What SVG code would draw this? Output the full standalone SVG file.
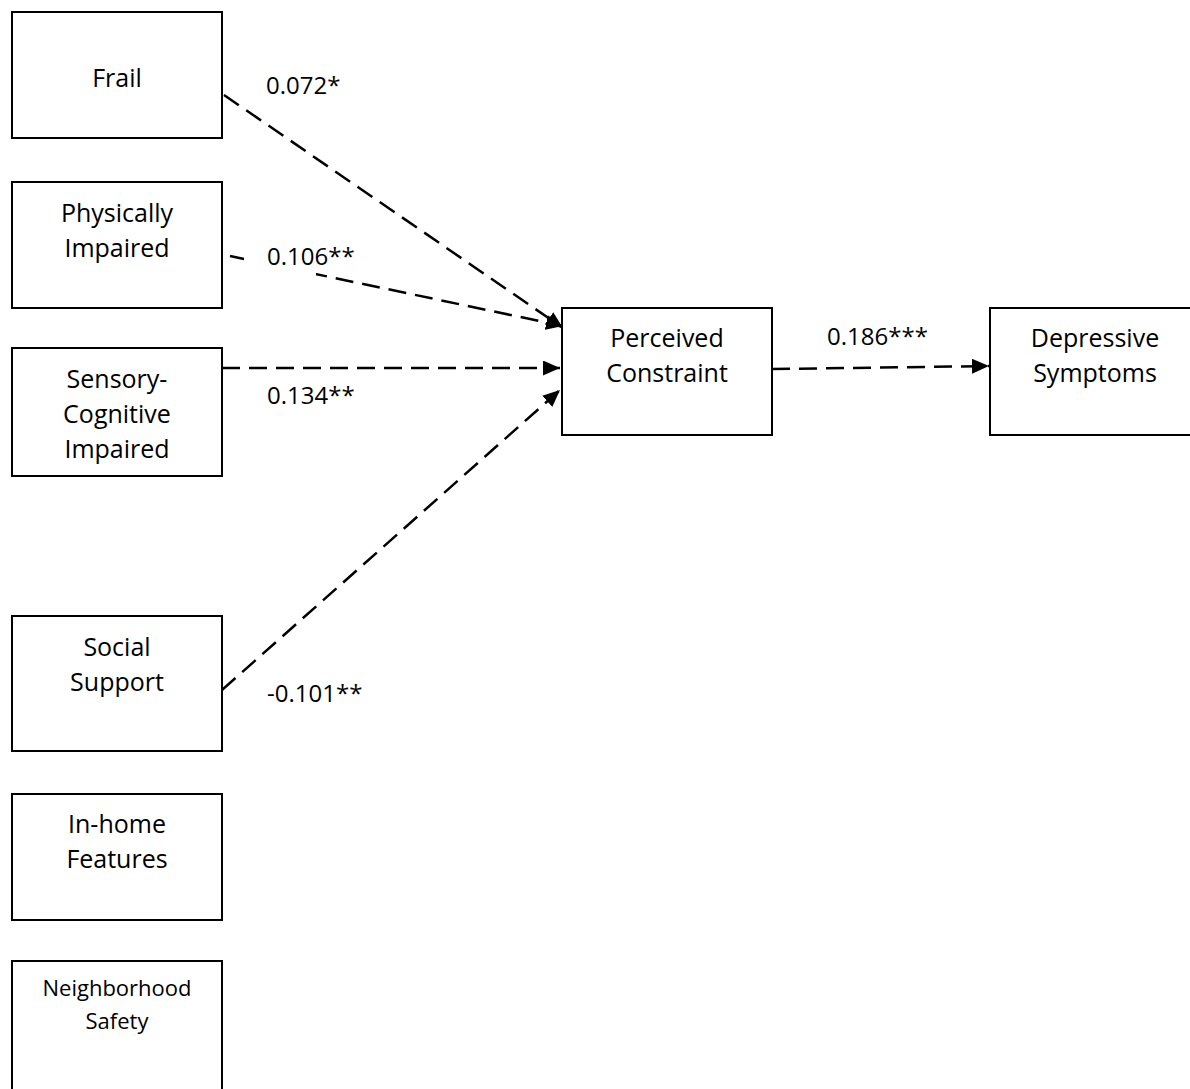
<svg xmlns="http://www.w3.org/2000/svg" width="1190" height="1089" viewBox="0 0 1190 1089">
<style>
.box{fill:#fff;stroke:#000;stroke-width:2}
.t{font-family:"Open Sans","Liberation Sans",sans-serif;font-size:25px;fill:#000;text-anchor:middle}
.s{font-size:22px}
.lab{font-family:"Open Sans","Liberation Sans",sans-serif;font-size:24px;fill:#000}
.c{stroke:#000;stroke-width:2.5;stroke-dasharray:18 9;fill:none;marker-end:url(#ah)}
</style>
<defs>
<marker id="ah" viewBox="0 0 10 10" refX="10" refY="5" markerWidth="17" markerHeight="15" markerUnits="userSpaceOnUse" orient="auto" preserveAspectRatio="none"><path d="M0,0 L10,5 L0,10 z" fill="#000"/></marker>
</defs>
<rect width="1190" height="1089" fill="#fff"/>
<g id="connectors">
<path class="c" d="M224,95 L563,328"/>
<path class="c" d="M230,256 L563,326"/>
<path class="c" d="M222,368 L560,368"/>
<path class="c" d="M222,690 L560,390"/>
<path class="c" d="M772,369 L989,366"/>
<rect x="244" y="240" width="72" height="36" fill="#fff"/>
</g>
<g id="frail"><rect class="box" x="12" y="12" width="210" height="126"/><text class="t" x="117" y="87">Frail</text></g>
<g id="physically"><rect class="box" x="12" y="182" width="210" height="126"/><text class="t" x="117" y="222">Physically</text><text class="t" x="117" y="257">Impaired</text></g>
<g id="sensory"><rect class="box" x="12" y="348" width="210" height="128"/><text class="t" x="117" y="388">Sensory-</text><text class="t" x="117" y="423">Cognitive</text><text class="t" x="117" y="458">Impaired</text></g>
<g id="social"><rect class="box" x="12" y="616" width="210" height="135"/><text class="t" x="117" y="656">Social</text><text class="t" x="117" y="691">Support</text></g>
<g id="inhome"><rect class="box" x="12" y="794" width="210" height="126"/><text class="t" x="117" y="833">In-home</text><text class="t" x="117" y="868">Features</text></g>
<g id="neighborhood"><rect class="box" x="12" y="961" width="210" height="140"/><text class="t s" x="117" y="996">Neighborhood</text><text class="t s" x="117" y="1029">Safety</text></g>
<g id="perceived"><rect class="box" x="562" y="308" width="210" height="127"/><text class="t" x="667" y="347">Perceived</text><text class="t" x="667" y="382">Constraint</text></g>
<g id="depressive"><rect class="box" x="990" y="308" width="210" height="127"/><text class="t" x="1095" y="347">Depressive</text><text class="t" x="1095" y="382">Symptoms</text></g>
<g id="labels">
<text class="lab" x="266" y="94">0.072*</text>
<text class="lab" x="267" y="265">0.106**</text>
<text class="lab" x="267" y="404">0.134**</text>
<text class="lab" x="267" y="702">-0.101**</text>
<text class="lab" x="827" y="345">0.186***</text>
</g>
</svg>
